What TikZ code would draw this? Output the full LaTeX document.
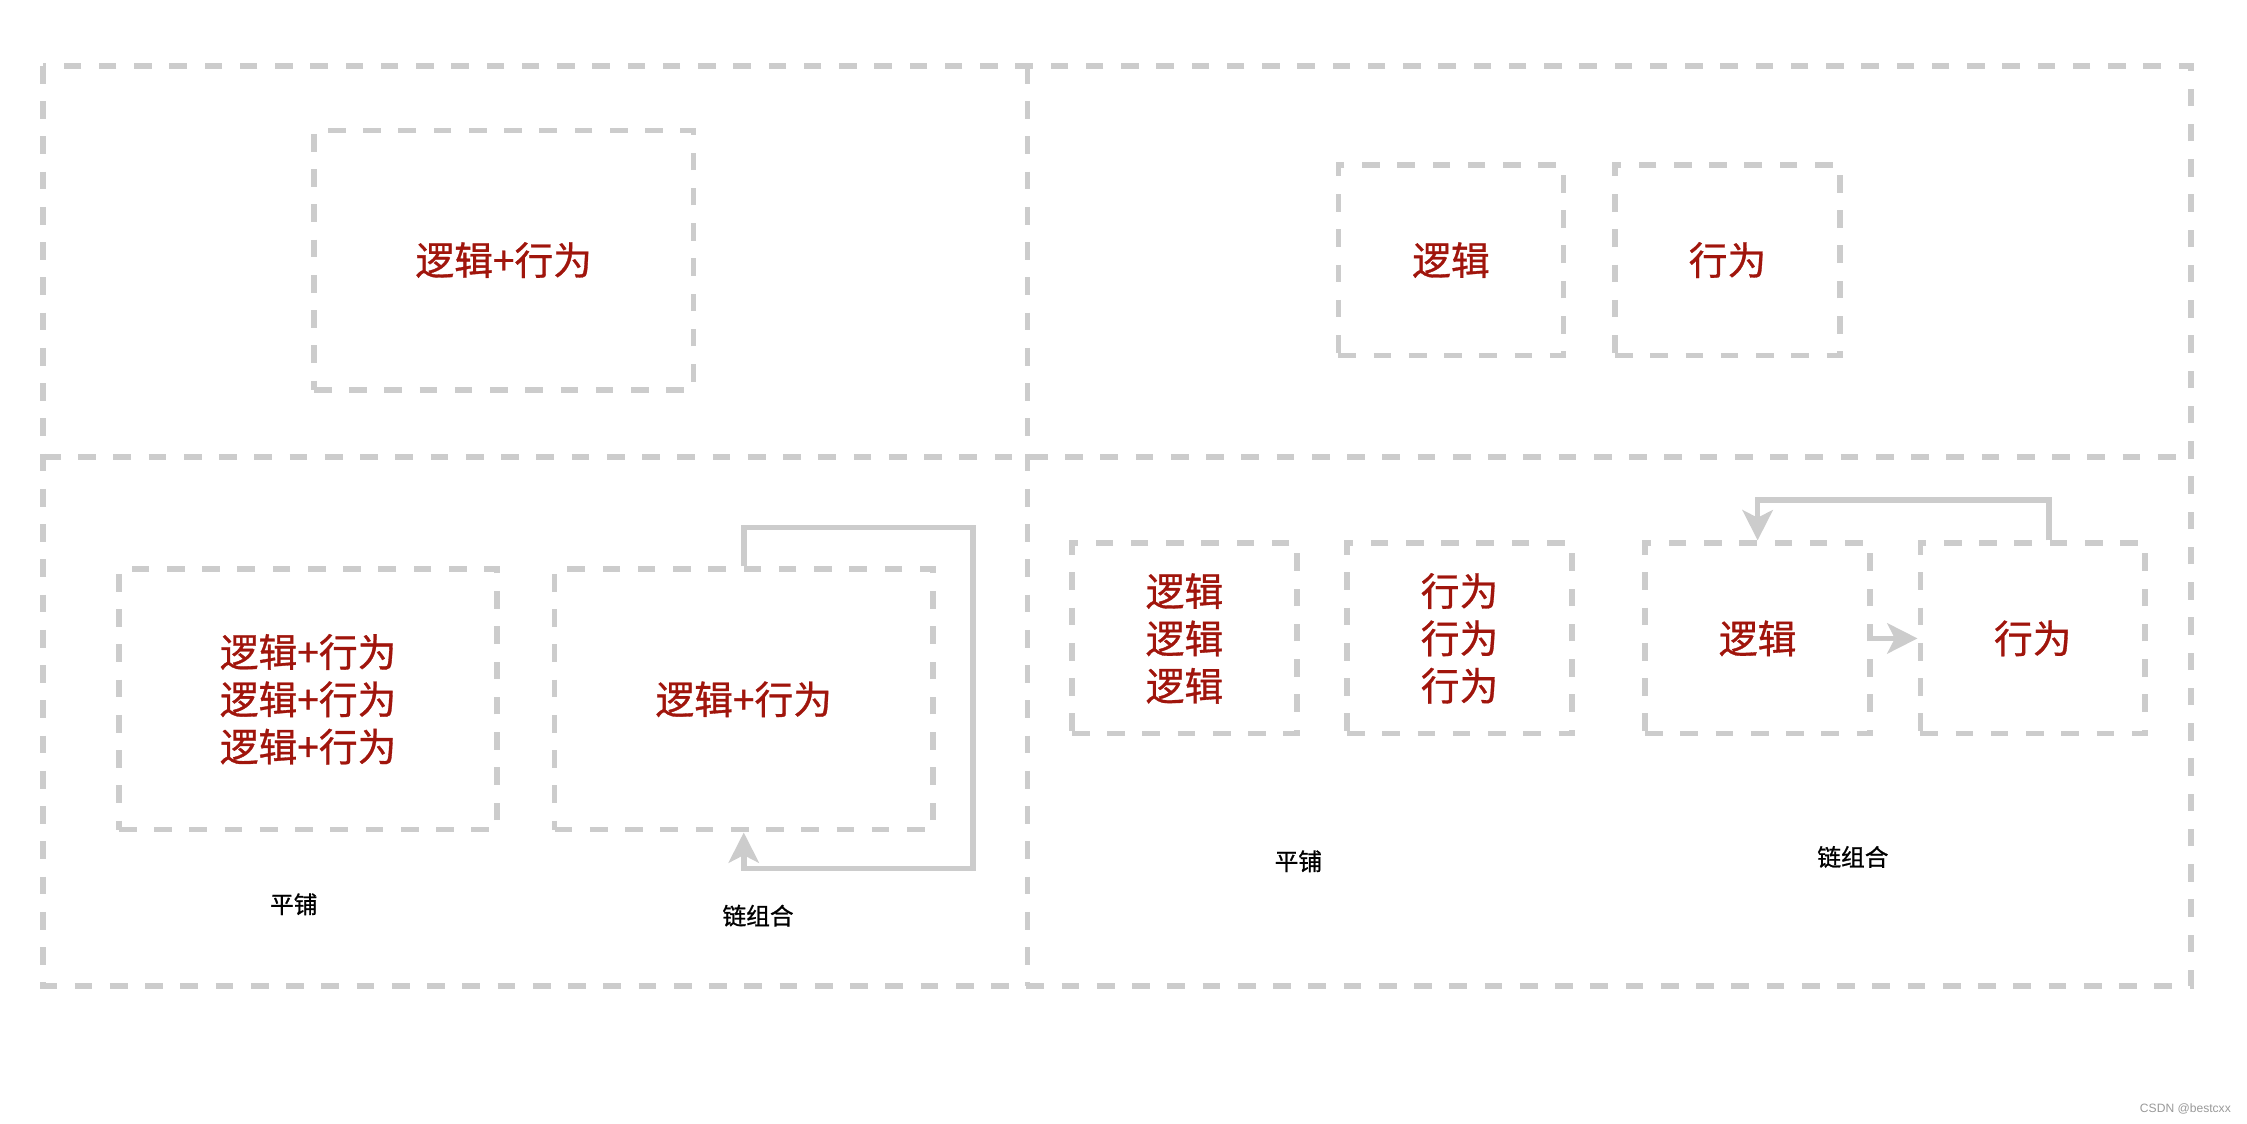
\documentclass[tikz,border=0pt]{standalone}
\usepackage{fontspec}
\setmainfont{Liberation Sans}
\newfontfamily\cjk[FakeBold=0.8]{Noto Sans CJK SC}
\newfontfamily\cjklbl[FakeBold=1.0]{Noto Sans CJK SC}
\usetikzlibrary{arrows.meta}
\definecolor{boxgray}{HTML}{CCCCCC}
\definecolor{darkred}{HTML}{A0150C}
\definecolor{wmgray}{HTML}{999999}
\begin{document}
\begin{tikzpicture}[x=0.02cm,y=-0.02cm,
  dline/.style={draw=boxgray, line width=2.2pt, dash pattern=on 7pt off 7pt},
  dbox/.style={dline, rectangle, inner sep=0pt},
  redtxt/.style={text=darkred, font=\cjk\fontsize{15.4}{18.8}\selectfont, align=center},
  lbl/.style={font=\cjklbl\fontsize{9.4}{11}\selectfont, text=black},
  conn/.style={draw=boxgray, line width=2.2pt},
  tip/.style={-{Stealth[length=12pt,width=12pt,inset=3pt]}}
]
\useasboundingbox (0,0) rectangle (1568,784);
% outer frame with dividers
\coordinate (fnw) at (30,46);
\coordinate (fse) at (1529,688);
\draw[dline] (fnw) rectangle (fse);
\draw[dline] (717,46) -- (717,688);
\draw[dline] (30,319) -- (1529,319);
% top-left
\node[dbox, redtxt, minimum width=5.3cm, minimum height=3.62cm] (tl) at (351.5,181.5) {逻辑+行为};
% top-right
\node[dbox, redtxt, minimum width=3.14cm, minimum height=2.66cm] (tr1) at (1012.5,181.5) {逻辑};
\node[dbox, redtxt, minimum width=3.14cm, minimum height=2.66cm] (tr2) at (1205.5,181.5) {行为};
% bottom-left
\node[dbox, redtxt, minimum width=5.28cm, minimum height=3.64cm] (bl1) at (215,488) {逻辑+行为\\逻辑+行为\\逻辑+行为};
\node[dbox, redtxt, minimum width=5.28cm, minimum height=3.64cm] (bl2) at (519,488) {逻辑+行为};
\draw[conn, tip] (bl2.north) -- ++(0,-27) -| (679,606) -| (bl2.south);
\node[lbl] (lbl1) at (205,631) {平铺};
\node[lbl] (lbl2) at (529,639) {链组合};
% bottom-right
\node[dbox, redtxt, minimum width=3.14cm, minimum height=2.66cm] (br1) at (826.5,445.5) {逻辑\\逻辑\\逻辑};
\node[dbox, redtxt, minimum width=3.14cm, minimum height=2.66cm] (br2) at (1018.5,445.5) {行为\\行为\\行为};
\node[dbox, redtxt, minimum width=3.14cm, minimum height=2.66cm] (c1) at (1226.5,445.5) {逻辑};
\node[dbox, redtxt, minimum width=3.14cm, minimum height=2.66cm] (c2) at (1418.5,445.5) {行为};
\draw[conn, tip] (c1.east) -- (c2.west);
\draw[conn, tip] ([xshift=0.23cm]c2.north) -- ++(0,-28) -| (c1.north);
\node[lbl] (lbl3) at (906,601) {平铺};
\node[lbl] (lbl4) at (1293,598) {链组合};
% watermark
\node[font=\fontsize{4.8}{5}\selectfont, text=wmgray] (wm) at (1525,774) {CSDN @bestcxx};
\end{tikzpicture}
\end{document}
